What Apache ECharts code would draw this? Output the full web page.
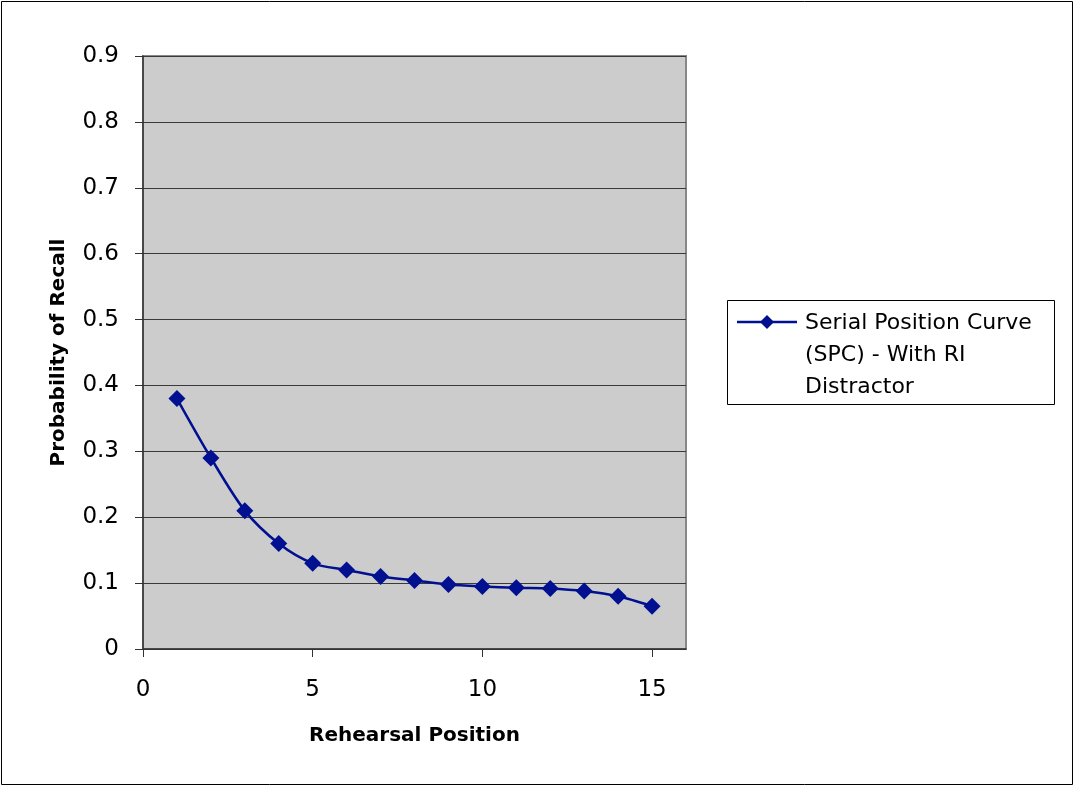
<!DOCTYPE html>
<html>
<head>
<meta charset="utf-8">
<script src="https://cdn.jsdelivr.net/npm/echarts@6/dist/echarts.min.js"></script>
<style>
  html, body { margin: 0; padding: 0; background: #fff; }
  #chart { width: 1074px; height: 786px; }
</style>
</head>
<body>
<div id="chart"></div>
<script>
// Rehearsal positions and their recall probabilities
const positions = [1, 2, 3, 4, 5, 6, 7, 8, 9, 10, 11, 12, 13, 14, 15];
const recall = [0.38, 0.29, 0.21, 0.16, 0.13, 0.12, 0.11, 0.104, 0.098, 0.095, 0.093, 0.092, 0.088, 0.08, 0.065];
const seriesName = 'Serial Position Curve (SPC) - With RI Distractor';
const legendLines = ['Serial Position Curve', '(SPC) - With RI', 'Distractor'];

const FONT = 'DejaVu Sans';
const LINE_COLOR = '#001090';

const chart = echarts.init(document.getElementById('chart'), null, { renderer: 'canvas' });

const grid = { left: 143, top: 56, width: 543, height: 593 };

chart.setOption({
  backgroundColor: '#ffffff',
  animation: false,
  grid: Object.assign({
    show: true,
    backgroundColor: '#cccccc',
    borderColor: '#888888',
    borderWidth: 2
  }, grid),
  xAxis: {
    type: 'value',
    min: 0,
    max: 16,
    interval: 5,
    name: 'Rehearsal Position',
    nameLocation: 'middle',
    nameGap: 77,
    nameTextStyle: { fontFamily: FONT, fontSize: 20, fontWeight: 'bold', color: '#000' },
    axisLine: { onZero: false, lineStyle: { color: '#333', width: 1.5 } },
    axisTick: { show: true, length: 8, lineStyle: { color: '#333' } },
    axisLabel: { showMaxLabel: false, margin: 30, fontFamily: FONT, fontSize: 23, color: '#000' },
    splitLine: { show: false }
  },
  yAxis: {
    type: 'value',
    min: 0,
    max: 0.9,
    interval: 0.1,
    name: 'Probability of Recall',
    nameLocation: 'middle',
    nameGap: 74,
    nameTextStyle: { fontFamily: FONT, fontSize: 20, fontWeight: 'bold', color: '#000' },
    axisLine: { show: true, lineStyle: { color: '#333', width: 1.5 } },
    axisTick: { show: true, length: 8, lineStyle: { color: '#333' } },
    axisLabel: { margin: 24, fontFamily: FONT, fontSize: 23, color: '#000' },
    splitLine: { show: true, lineStyle: { color: '#3a3a3a', width: 1.2 } }
  },
  series: [{
    name: seriesName,
    type: 'line',
    data: positions.map((p, i) => [p, recall[i]]),
    smooth: 0.3,
    symbol: 'diamond',
    symbolSize: 17,
    lineStyle: { color: LINE_COLOR, width: 2.5 },
    itemStyle: { color: LINE_COLOR }
  }],
  graphic: [
    // outer chart border
    {
      type: 'rect',
      shape: { x: 1.5, y: 1.5, width: 1071, height: 783 },
      style: { fill: 'none', stroke: '#000', lineWidth: 1 },
      silent: true
    },
    // legend box
    {
      type: 'group',
      left: 727,
      top: 300,
      children: [
        {
          type: 'rect',
          shape: { x: 0.5, y: 0.5, width: 327, height: 104 },
          style: { fill: '#fff', stroke: '#000', lineWidth: 1 }
        },
        {
          type: 'line',
          shape: { x1: 10, y1: 22, x2: 70, y2: 22 },
          style: { stroke: LINE_COLOR, lineWidth: 2.5 }
        },
        {
          type: 'polygon',
          shape: { points: [[40, 15], [47, 22], [40, 29], [33, 22]] },
          style: { fill: LINE_COLOR }
        },
        {
          type: 'text',
          x: 78,
          y: 7,
          style: {
            text: legendLines.join('\n'),
            fontFamily: FONT,
            fontSize: 22,
            lineHeight: 32,
            fill: '#000'
          }
        }
      ]
    }
  ]
});
</script>
</body>
</html>
